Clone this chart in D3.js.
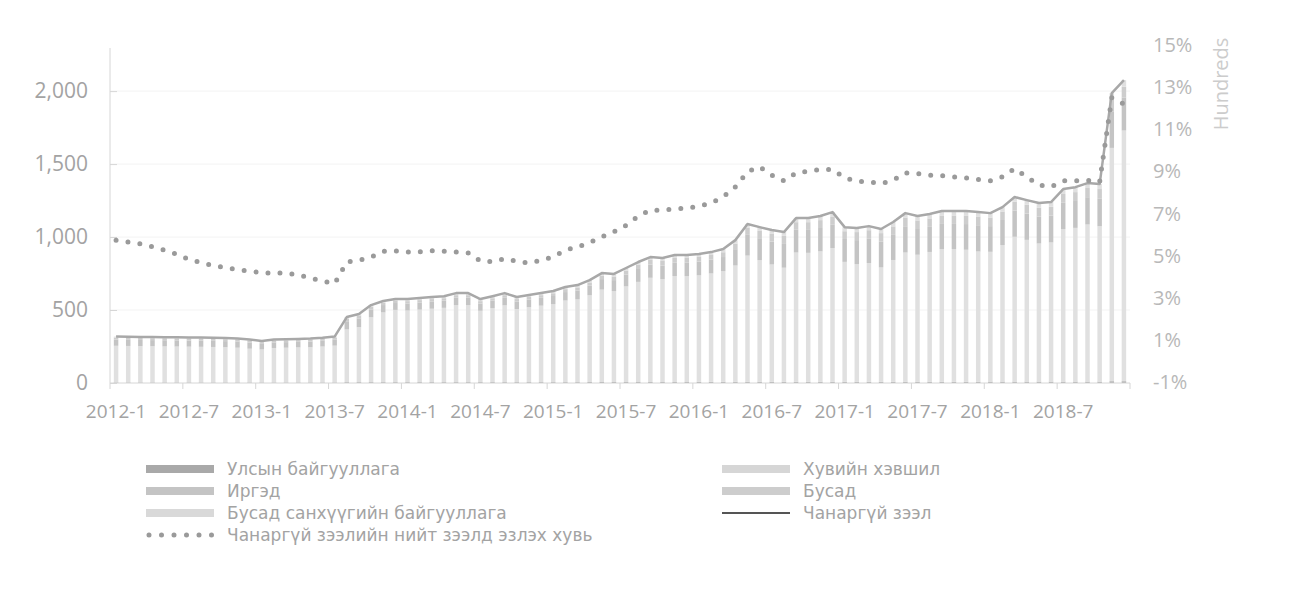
<!DOCTYPE html>
<html>
<head>
<meta charset="utf-8">
<script src="https://cdn.jsdelivr.net/npm/d3@7.9.0/dist/d3.min.js"></script>
<style>
  body { margin: 0; background: #fff; }
  svg text { font-family: "Open Sans", sans-serif; }
  svg text.legend { font-family: "DejaVu Sans", sans-serif; }
</style>
</head>
<body>
<svg id="chart" width="1293" height="596"></svg>
<script>
// categories: monthly, 2012-1 .. 2018-12
const years = [2012, 2013, 2014, 2015, 2016, 2017, 2018];
const months = years.flatMap((y) => d3.range(1, 13).map((m) => `${y}-${m}`));
const xTickLabels = ['2012-1', '2012-7', '2013-1', '2013-7', '2014-1', '2014-7', '2015-1',
  '2015-7', '2016-1', '2016-7', '2017-1', '2017-7', '2018-1', '2018-7'];
const leftTicks = [0, 500, 1000, 1500, 2000];
const rightTicks = [-1, 1, 3, 5, 7, 9, 11, 13, 15];

// Улсын байгууллага
const stateOrg = [
  4, 4, 4, 4, 4, 4, 4, 4, 4, 4, 4, 4,
  4, 4, 4, 4, 4, 4, 4, 6, 6, 6, 6, 6,
  6, 6, 6, 6, 6, 6, 6, 6, 6, 6, 6, 6,
  6, 6, 6, 7, 7, 7, 7, 7, 7, 7, 7, 7,
  8, 8, 8, 8, 8, 8, 8, 8, 8, 8, 8, 8,
  8, 8, 8, 8, 8, 8, 8, 8, 8, 8, 8, 8,
  9, 9, 9, 9, 9, 9, 9, 9, 9, 9, 12, 12,
];
// Хувийн хэвшил
const privateSector = [
  251, 250, 249, 248, 247, 246, 245, 244, 243, 241, 238, 231,
  226, 236, 238, 240, 241, 246, 252, 361, 377, 444, 478, 495,
  491, 497, 503, 509, 528, 528, 489, 507, 526, 501, 513, 524,
  535, 559, 567, 594, 633, 623, 655, 686, 714, 705, 726, 725,
  730, 743, 758, 797, 865, 834, 804, 782, 886, 884, 894, 917,
  822, 806, 814, 784, 835, 886, 871, 890, 910, 910, 905, 893,
  890, 936, 993, 972, 947, 954, 1046, 1054, 1077, 1065, 1599, 1718,
];
// Иргэд
const citizens = [
  42, 42, 42, 42, 42, 42, 42, 42, 42, 42, 42, 42,
  38, 38, 38, 38, 39, 39, 40, 56, 60, 54, 50, 47,
  48, 49, 50, 50, 51, 51, 50, 51, 52, 51, 52, 54,
  55, 58, 61, 66, 72, 75, 81, 88, 91, 93, 93, 94,
  94, 94, 97, 112, 142, 150, 157, 163, 156, 157, 160, 162,
  157, 165, 169, 176, 172, 180, 176, 172, 172, 172, 176, 180,
  176, 172, 180, 180, 184, 184, 180, 184, 187, 191, 247, 225,
];
// Бусад
const other = [
  13, 13, 13, 13, 13, 13, 13, 13, 13, 13, 13, 13,
  12, 12, 12, 12, 13, 13, 14, 19, 20, 18, 16, 15,
  16, 16, 16, 16, 17, 17, 16, 17, 18, 17, 18, 18,
  19, 20, 21, 22, 24, 25, 27, 30, 31, 31, 31, 31,
  32, 32, 33, 38, 48, 50, 53, 55, 52, 53, 54, 54,
  53, 55, 56, 59, 58, 60, 59, 58, 58, 58, 59, 60,
  59, 58, 60, 60, 61, 61, 60, 61, 63, 64, 83, 75,
];
// Бусад санхүүгийн байгууллага
const otherFinancial = [
  8, 8, 8, 8, 8, 8, 8, 8, 8, 8, 8, 8,
  8, 8, 8, 8, 8, 8, 8, 10, 10, 12, 12, 12,
  14, 14, 14, 14, 14, 14, 14, 14, 14, 14, 14, 14,
  15, 15, 16, 16, 17, 17, 18, 18, 20, 20, 20, 20,
  20, 20, 22, 24, 26, 26, 26, 26, 28, 28, 28, 30,
  28, 28, 28, 28, 30, 30, 30, 30, 30, 30, 30, 30,
  30, 30, 32, 32, 32, 32, 34, 34, 34, 34, 45, 45,
];
// Чанаргүй зээл (total)
const npl = [
  318, 317, 316, 315, 314, 313, 312, 311, 310, 308, 305, 298,
  288, 298, 300, 302, 305, 310, 318, 452, 473, 534, 562, 575,
  575, 582, 589, 595, 616, 616, 575, 595, 616, 589, 603, 616,
  630, 658, 671, 705, 753, 747, 788, 829, 863, 856, 877, 877,
  884, 897, 918, 979, 1089, 1068, 1048, 1034, 1130, 1130, 1144, 1171,
  1068, 1062, 1075, 1055, 1103, 1164, 1144, 1158, 1178, 1178, 1178, 1171,
  1164, 1205, 1274, 1253, 1233, 1240, 1329, 1342, 1370, 1363, 1986, 2075,
];
// Чанаргүй зээлийн нийт зээлд эзлэх хувь (%)
const nplRatio = [
  5.74, 5.66, 5.58, 5.43, 5.27, 5.08, 4.84, 4.68, 4.55, 4.44, 4.35, 4.28,
  4.2, 4.19, 4.19, 4.1, 3.95, 3.8, 3.69, 4.71, 4.79, 4.95, 5.22, 5.24,
  5.19, 5.19, 5.25, 5.22, 5.19, 5.14, 4.76, 4.73, 4.87, 4.74, 4.66, 4.79,
  4.95, 5.27, 5.43, 5.63, 5.9, 6.14, 6.45, 6.88, 7.17, 7.17, 7.23, 7.26,
  7.36, 7.51, 7.8, 8.27, 8.99, 9.22, 8.83, 8.56, 8.94, 9.02, 9.1, 9.1,
  8.7, 8.55, 8.51, 8.43, 8.59, 8.94, 8.91, 8.83, 8.8, 8.75, 8.7, 8.62,
  8.56, 8.75, 9.14, 8.75, 8.36, 8.28, 8.56, 8.56, 8.59, 8.51, 12.5, 12.2,
];

const series = [
  { key: 'stateOrg', name: 'Улсын байгууллага', values: stateOrg, color: '#a9a9a9' },
  { key: 'privateSector', name: 'Хувийн хэвшил', values: privateSector, color: '#e0e0e0' },
  { key: 'citizens', name: 'Иргэд', values: citizens, color: '#c4c4c4' },
  { key: 'other', name: 'Бусад', values: other, color: '#cdcdcd' },
  { key: 'otherFinancial', name: 'Бусад санхүүгийн байгууллага', values: otherFinancial, color: '#e0e0e0' },
];
const lineColor = '#a8a8a8';
const dotColor = '#9a9a9a';
const textColor = '#a3a3a3';
const axisColor = '#d6d6d6';

const rows = months.map((m, i) => {
  let row = { month: m };
  series.forEach((s) => { row[s.key] = s.values[i]; });
  return row;
});

const svg = d3.select('#chart');
const plotLeft = 110, plotRight = 1130, plotTop = 45, plotBottom = 383;

let x = d3.scaleBand().domain(months).range([plotLeft, plotRight]).paddingInner(0.63).paddingOuter(0.315);
let xc = (m) => x(m) + x.bandwidth() / 2;
let yL = d3.scaleLinear().domain([0, 2316]).range([plotBottom, plotTop]);
let yR = d3.scaleLinear().domain([-1, 15]).range([plotBottom - 0.5, plotTop]);

// gridlines
svg.append('g')
  .selectAll('line')
  .data(leftTicks.slice(1))
  .join('line')
  .attr('x1', plotLeft).attr('x2', plotRight)
  .attr('y1', (d) => yL(d)).attr('y2', (d) => yL(d))
  .attr('stroke', '#f3f3f3');

// stacked bars
let stacked = d3.stack().keys(series.map((s) => s.key))(rows);
stacked.forEach((layer, idx) => {
  svg.append('g')
    .attr('fill', series[idx].color)
    .selectAll('rect')
    .data(layer)
    .join('rect')
    .attr('x', (d) => x(d.data.month))
    .attr('y', (d) => yL(d[1]))
    .attr('width', x.bandwidth())
    .attr('height', (d) => yL(d[0]) - yL(d[1]));
});

// left axis, ticks pointing inward
let leftAxis = svg.append('g')
  .attr('transform', `translate(${plotLeft},0)`)
  .call(d3.axisLeft(yL).tickValues(leftTicks).tickSize(-7).tickPadding(22).tickFormat(d3.format(',')));
leftAxis.select('.domain').attr('stroke', axisColor).attr('d', `M0,48V${plotBottom}`);
leftAxis.selectAll('.tick line').attr('stroke', axisColor);
leftAxis.selectAll('text').attr('fill', textColor).style('font-size', '21px');

// right axis
let rightAxis = svg.append('g')
  .attr('transform', `translate(${plotRight},0)`)
  .call(d3.axisRight(yR).tickValues(rightTicks).tickSize(0).tickPadding(23).tickFormat((d) => `${d}%`));
rightAxis.select('.domain').remove();
rightAxis.selectAll('text').attr('fill', '#b8b8b8').style('font-size', '20px');

svg.append('text')
  .attr('transform', 'translate(1228,84) rotate(-90)')
  .attr('text-anchor', 'middle')
  .attr('fill', '#cccccc')
  .style('font-size', '20px')
  .text('Hundreds');

// bottom axis
let xAxis = svg.append('g');
xAxis.append('line')
  .attr('x1', plotLeft).attr('x2', plotRight)
  .attr('y1', plotBottom).attr('y2', plotBottom)
  .attr('stroke', axisColor);
let boundary = (m) => x(m) - x.step() * x.paddingOuter();
xAxis.selectAll('.tick')
  .data(xTickLabels)
  .join('line')
  .attr('class', 'tick')
  .attr('x1', (d) => boundary(d)).attr('x2', (d) => boundary(d))
  .attr('y1', plotBottom).attr('y2', plotBottom + 6)
  .attr('stroke', axisColor);
xAxis.append('line')
  .attr('x1', plotRight).attr('x2', plotRight)
  .attr('y1', plotBottom).attr('y2', plotBottom + 6)
  .attr('stroke', axisColor);
xAxis.selectAll('text')
  .data(xTickLabels)
  .join('text')
  .attr('x', (d) => xc(d))
  .attr('y', 418)
  .attr('text-anchor', 'middle')
  .attr('fill', textColor)
  .style('font-size', '19px')
  .text((d) => d);

// total NPL line
svg.append('path')
  .datum(npl)
  .attr('fill', 'none')
  .attr('stroke', lineColor)
  .attr('stroke-width', 2.5)
  .attr('stroke-linejoin', 'round')
  .attr('d', d3.line().x((d, i) => xc(months[i])).y((d) => yL(d)));

// NPL ratio, round-dot line
svg.append('path')
  .datum(nplRatio)
  .attr('fill', 'none')
  .attr('stroke', dotColor)
  .attr('stroke-width', 5)
  .attr('stroke-linecap', 'round')
  .attr('stroke-dasharray', '0 12')
  .attr('d', d3.line().x((d, i) => xc(months[i])).y((d) => yR(d)));

// legend
const legendLeft = [
  { name: series[0].name, type: 'rect', color: series[0].color },
  { name: series[2].name, type: 'rect', color: series[2].color },
  { name: series[4].name, type: 'rect', color: '#d9d9d9' },
  { name: 'Чанаргүй зээлийн нийт зээлд эзлэх хувь', type: 'dots', color: dotColor },
];
const legendRight = [
  { name: series[1].name, type: 'rect', color: '#d6d6d6' },
  { name: series[3].name, type: 'rect', color: series[3].color },
  { name: 'Чанаргүй зээл', type: 'line', color: '#555555' },
];
const legendRows = [469, 491, 513, 535];

function drawLegend(items, x0) {
  items.forEach((d, idx) => {
    let g = svg.append('g').attr('transform', `translate(${x0},${legendRows[idx]})`);
    if (d.type === 'rect') {
      g.append('rect').attr('x', 0).attr('y', -4).attr('width', 68).attr('height', 8).attr('fill', d.color);
    } else if (d.type === 'line') {
      g.append('line').attr('x1', 0).attr('x2', 68).attr('stroke', d.color).attr('stroke-width', 2);
    } else {
      g.append('line').attr('x1', 3).attr('x2', 68).attr('stroke', d.color)
        .attr('stroke-width', 5).attr('stroke-linecap', 'round').attr('stroke-dasharray', '0 12.5');
    }
    g.append('text')
      .attr('class', 'legend')
      .attr('x', 81)
      .attr('y', 6)
      .attr('fill', textColor)
      .style('font-size', '17px')
      .text(d.name);
  });
}
drawLegend(legendLeft, 146);
drawLegend(legendRight, 722);
</script>
</body>
</html>
